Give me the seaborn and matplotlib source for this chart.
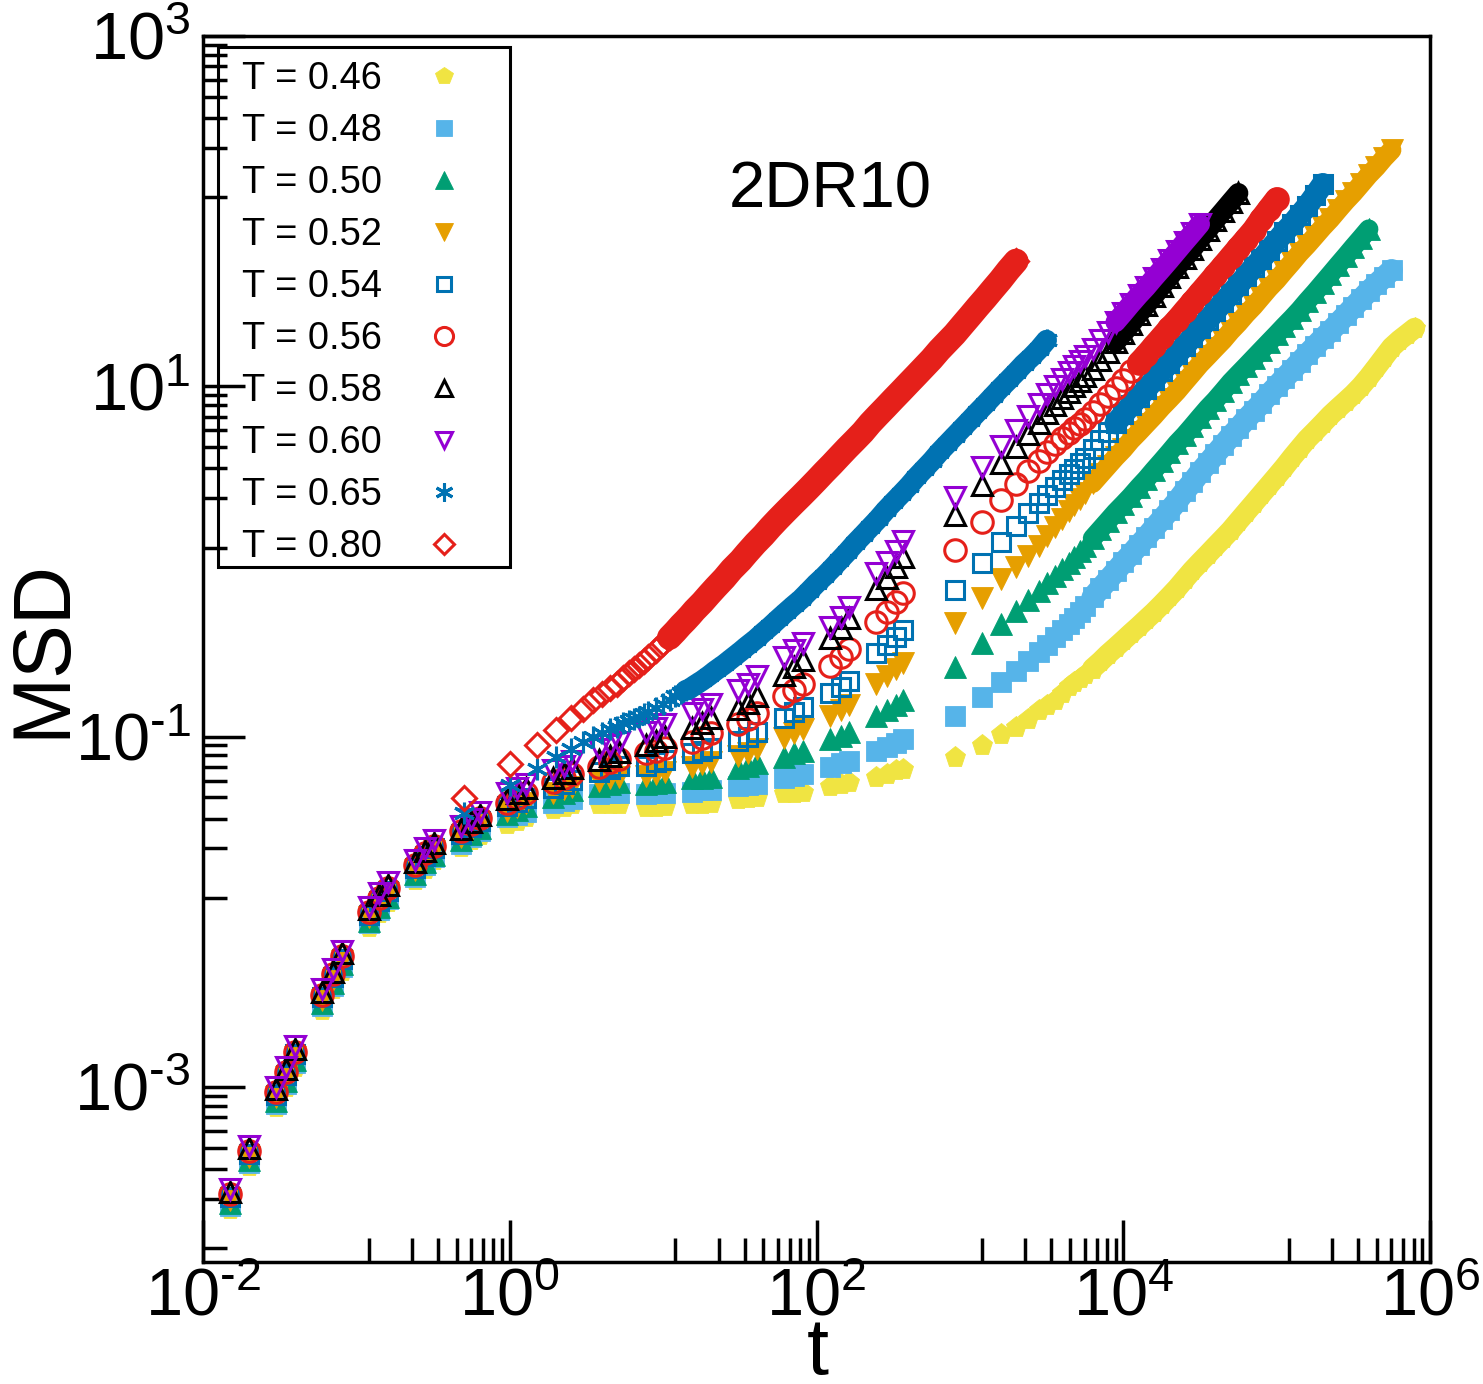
import numpy as np
import matplotlib
matplotlib.use("Agg")
import matplotlib.pyplot as plt
import matplotlib.ticker as mticker
from matplotlib.patches import Rectangle
import seaborn as sns

# time grids (log-spaced blocks for the short runs, linear/dense for the long runs)
SHORT_T = [0.015, 0.02, 0.03, 0.035, 0.04, 0.06, 0.07, 0.08, 0.12, 0.14, 0.16, 0.24, 0.28, 0.32, 0.48, 0.56, 0.64,
           0.96, 1.12, 1.28, 1.92, 2.24, 2.56, 3.84, 4.48, 5.12, 7.68, 8.96, 10.24, 15.36, 17.92, 20.48,
           30.72, 35.84, 40.96, 61.44, 71.68, 81.92, 122.88, 143.36, 163.84, 245.76, 286.72, 327.68, 368.64]
LONG_T = [800, 1200, 1600, 2000, 2400, 2800, 3200, 3600, 4000, 4400, 4800, 5200, 5600, 6300, 7100, 7900, 8900,
          10000, 11200, 12600, 14100, 15800, 17800, 20000, 22400, 25100, 28200, 31600, 35500, 39800, 44700,
          50100, 56200, 63100, 70800, 79400, 89100, 100000, 112000, 126000, 141000, 158000, 178000, 200000,
          224000, 251000, 282000, 316000, 355000, 398000, 447000, 501000, 562000, 631000, 708000, 794000]
DENSE_T = [0.5, 1.0, 1.5, 2.0, 2.5, 3.0, 3.5, 4.0, 4.5, 5.0, 5.5, 6.0, 6.5, 7.0, 7.5, 8.0, 9.0, 10, 11, 12, 13,
           14, 15, 16, 18, 20, 22, 25, 28, 32, 35, 40, 45, 50, 56, 63, 71, 79, 89, 100, 112, 126, 141, 158, 178,
           200, 224, 251, 282, 316, 355, 398, 447, 501, 562, 631, 708, 794, 891, 1000, 1120, 1260, 1410, 1580,
           1780, 2000, 2240, 2510, 2820, 3160]

# MSD values
msd_046_short = [2.0e-4, 3.53e-4, 7.7e-4, 1.0e-3, 1.3e-3, 2.76e-3, 3.6e-3, 4.6e-3, 8.2e-3, 9.8e-3, 1.13e-2,
                 1.52e-2, 1.76e-2, 1.96e-2, 2.35e-2, 2.55e-2, 2.75e-2,
                 0.0317, 0.0331, 0.0345, 0.0386, 0.0398, 0.0410, 0.0410, 0.0414, 0.0414, 0.0398, 0.0398, 0.0402,
                 0.0414, 0.0414, 0.0419, 0.0442, 0.0448, 0.0454, 0.0473, 0.0479, 0.0485, 0.0525, 0.0537, 0.0553,
                 0.0591, 0.0615, 0.0640, 0.0656]
msd_046_long = [0.0759, 0.0889, 0.1027, 0.1140, 0.1267, 0.1408, 0.1523, 0.1625, 0.1761, 0.1931, 0.2035, 0.2145,
                0.2261, 0.2445, 0.2683, 0.2941, 0.3225, 0.3537, 0.3878, 0.4252, 0.4663, 0.5113, 0.5678, 0.6310,
                0.7013, 0.7891, 0.8883, 0.9869, 1.096, 1.218, 1.353, 1.503, 1.693, 1.907, 2.145, 2.414, 2.717,
                3.060, 3.445, 3.928, 4.423, 4.980, 5.532, 6.145, 6.826, 7.488, 8.209, 9.00, 10.0, 11.26, 12.84,
                14.65, 16.71, 18.32, 19.82, 21.45]

msd_048_short = [2.08e-4, 3.68e-4, 8.0e-4, 1.04e-3, 1.36e-3, 2.88e-3, 3.76e-3, 4.8e-3, 8.6e-3, 1.02e-2, 1.18e-2,
                 1.58e-2, 1.84e-2, 2.04e-2, 2.45e-2, 2.67e-2, 2.88e-2,
                 0.0345, 0.0358, 0.0373, 0.0419, 0.0431, 0.0442, 0.0467, 0.0473, 0.0479, 0.0467, 0.0473, 0.0479,
                 0.0485, 0.0492, 0.0498, 0.0525, 0.0532, 0.0537, 0.0583, 0.0599, 0.0615, 0.0674, 0.0702, 0.0728,
                 0.0831, 0.0877, 0.0924, 0.0963]
msd_048_long = [0.1318, 0.1671, 0.2035, 0.2352, 0.2683, 0.3020, 0.3346, 0.3678, 0.4033, 0.4362, 0.4722, 0.5113,
                0.5532, 0.6226, 0.7010, 0.7787, 0.8767, 0.9869, 1.096, 1.234, 1.371, 1.544, 1.738, 1.956, 2.202,
                2.512, 2.828, 3.226, 3.631, 4.088, 4.601, 5.180, 5.754, 6.478, 7.197, 7.996, 9.00, 10.0, 11.11,
                12.34, 13.71, 15.23, 16.93, 18.81, 20.62, 22.91, 25.45, 28.28, 31.42, 34.9, 38.28, 41.97, 46.03]

msd_050_short = [2.17e-4, 3.83e-4, 8.3e-4, 1.08e-3, 1.42e-3, 3.0e-3, 3.92e-3, 5.0e-3, 8.9e-3, 1.07e-2, 1.22e-2,
                 1.65e-2, 1.92e-2, 2.12e-2, 2.55e-2, 2.78e-2, 3.0e-2,
                 0.0362, 0.0382, 0.0403, 0.0454, 0.0473, 0.0492, 0.0525, 0.0537, 0.0553, 0.0537, 0.0546, 0.0553,
                 0.0576, 0.0583, 0.0591, 0.0665, 0.0683, 0.0702, 0.0769, 0.0800, 0.0831, 0.0963, 0.1013, 0.1068,
                 0.1318, 0.1408, 0.1504, 0.1607]
msd_050_long = [0.2484, 0.3398, 0.4362, 0.5180, 0.5985, 0.6739, 0.7486, 0.8209, 0.9000, 0.9740, 1.054, 1.141,
                1.218, 1.353, 1.523, 1.693, 1.907, 2.118, 2.352, 2.647, 2.943, 3.311, 3.728, 4.197, 4.725, 5.248,
                5.908, 6.651, 7.488, 8.318, 9.363, 10.54, 11.71, 13.0, 14.45, 16.05, 17.83, 19.8, 22.0, 24.45,
                27.2, 30.6, 34.4, 38.8, 43.6, 49.1, 55.3, 62.3, 70.1, 78.9]

msd_052_short = [2.25e-4, 3.99e-4, 8.7e-4, 1.13e-3, 1.47e-3, 3.12e-3, 4.07e-3, 5.2e-3, 9.3e-3, 1.11e-2, 1.27e-2,
                 1.72e-2, 1.99e-2, 2.21e-2, 2.66e-2, 2.9e-2, 3.15e-2,
                 0.0377, 0.0398, 0.0419, 0.0479, 0.0500, 0.0518, 0.0560, 0.0576, 0.0591, 0.0599, 0.0615, 0.0631,
                 0.0674, 0.0694, 0.0711, 0.0779, 0.0810, 0.0844, 0.0987, 0.1041, 0.1097, 0.1318, 0.1408, 0.1504,
                 0.2008, 0.2202, 0.2415, 0.2617]
msd_052_long = [0.4420, 0.6146, 0.7890, 0.9241, 1.068, 1.218, 1.389, 1.564, 1.738, 1.931, 2.089, 2.262, 2.447,
                2.791, 3.142, 3.491, 3.928, 4.365, 4.914, 5.459, 6.066, 6.739, 7.586, 8.427, 9.363, 10.54, 11.87,
                13.36, 14.84, 16.49, 18.32, 20.62, 22.91, 25.79, 28.65, 32.26, 36.31, 40.33, 45.4, 51.1, 57.5,
                63.9, 72.0, 81.0, 90.0, 101.3, 114.0, 126.7, 142.7, 160.6, 178.4, 200.9, 223.2]

msd_054_short = [2.34e-4, 4.14e-4, 9.0e-4, 1.17e-3, 1.53e-3, 3.24e-3, 4.23e-3, 5.4e-3, 9.6e-3, 1.15e-2, 1.32e-2,
                 1.78e-2, 2.07e-2, 2.3e-2, 2.77e-2, 3.03e-2, 3.29e-2,
                 0.0403, 0.0425, 0.0448, 0.0511, 0.0537, 0.0568, 0.0631, 0.0656, 0.0683, 0.0683, 0.0711, 0.0739,
                 0.0800, 0.0831, 0.0865, 0.0948, 0.1000, 0.1055, 0.1284, 0.1372, 0.1465, 0.1764, 0.1908, 0.2062,
                 0.2982, 0.3310, 0.3677, 0.4032]
msd_054_long = [0.6827, 0.9740, 1.284, 1.585, 1.881, 2.145, 2.383, 2.647, 2.904, 3.143, 3.355, 3.630, 3.878,
                4.365, 4.914, 5.460, 6.145, 6.918, 7.788, 8.652, 9.613, 10.82, 12.18, 13.53, 15.23, 16.93, 19.05,
                21.45, 23.84, 26.83, 30.2, 33.55, 37.77, 42.52, 47.86, 53.18, 59.87, 67.39, 75.86, 84.3, 94.9,
                106.8, 123.4, 142.7]

msd_056_short = [2.43e-4, 4.3e-4, 9.3e-4, 1.21e-3, 1.59e-3, 3.36e-3, 4.39e-3, 5.6e-3, 1.0e-2, 1.19e-2, 1.37e-2,
                 1.85e-2, 2.15e-2, 2.38e-2, 2.88e-2, 3.15e-2, 3.42e-2,
                 0.0419, 0.0448, 0.0479, 0.0553, 0.0583, 0.0615, 0.0674, 0.0711, 0.0749, 0.0800, 0.0831, 0.0865,
                 0.0936, 0.0987, 0.1041, 0.1186, 0.1267, 0.1354, 0.1693, 0.1832, 0.1982, 0.2543, 0.2829, 0.3143,
                 0.4483, 0.5113, 0.5832, 0.6564]
msd_056_long = [1.156, 1.671, 2.232, 2.754, 3.268, 3.728, 4.197, 4.664, 5.045, 5.388, 5.754, 6.066, 6.478, 7.102,
                7.892, 8.767, 9.74, 10.82, 12.18, 13.53, 15.04, 16.93, 19.05, 21.45, 23.84, 26.83, 30.2, 34.0,
                38.28, 43.09, 48.5, 54.6, 61.47, 69.2, 77.9, 90.0, 102.7, 117.1]

msd_058_short = [2.5e-4, 4.45e-4, 9.7e-4, 1.26e-3, 1.64e-3, 3.48e-3, 4.55e-3, 5.8e-3, 1.03e-2, 1.24e-2, 1.42e-2,
                 1.91e-2, 2.22e-2, 2.46e-2, 2.98e-2, 3.26e-2, 3.55e-2,
                 0.0442, 0.0473, 0.0507, 0.0583, 0.0623, 0.0665, 0.0739, 0.0779, 0.0821, 0.0899, 0.0948, 0.1000,
                 0.1125, 0.1202, 0.1284, 0.1445, 0.1564, 0.1693, 0.2232, 0.2484, 0.2752, 0.3629, 0.4140, 0.4722,
                 0.6918, 0.7996, 0.9241, 1.054]
msd_058_long = [1.832, 2.719, 3.630, 4.481, 5.317, 6.145, 7.012, 7.788, 8.539, 9.241, 10.0, 10.68, 11.40, 12.51,
                14.08, 15.64, 17.8, 20.09, 22.61, 25.8, 29.04, 32.68, 37.27, 42.0, 47.86, 53.87, 60.66, 69.2,
                77.9, 88.8, 100.0, 112.6, 126.7]

msd_060_short = [2.6e-4, 4.6e-4, 1.0e-3, 1.3e-3, 1.7e-3, 3.6e-3, 4.7e-3, 6.0e-3, 1.07e-2, 1.28e-2, 1.47e-2,
                 1.98e-2, 2.3e-2, 2.55e-2, 3.1e-2, 3.4e-2, 3.7e-2,
                 0.0473, 0.0507, 0.0537, 0.0640, 0.0683, 0.0728, 0.0844, 0.0889, 0.0936, 0.1055, 0.1112, 0.1172,
                 0.1354, 0.1445, 0.1543, 0.1832, 0.2008, 0.2202, 0.2829, 0.3101, 0.3398, 0.4196, 0.4786, 0.5459,
                 0.854, 0.987, 1.141, 1.301]
msd_060_long = [2.321, 3.445, 4.541, 5.606, 6.739, 7.892, 9.00, 10.0, 10.96, 12.02, 13.0, 13.89, 14.84, 16.27,
                18.32, 20.35, 23.21, 26.13, 29.42, 33.11, 36.79, 41.42, 46.63, 52.48, 59.08, 66.51, 74.86, 84.3]

msd_065 = [0.0368, 0.0532, 0.0656, 0.0769, 0.0854, 0.0936, 0.1000, 0.1054, 0.1097, 0.1140, 0.1187, 0.1234,
           0.1267, 0.1301, 0.1353, 0.1389, 0.1464, 0.1543, 0.1627, 0.1693, 0.1761, 0.1832, 0.1881, 0.1956,
           0.2089, 0.2232, 0.2383, 0.2579, 0.2790, 0.3060, 0.3268, 0.3583, 0.3929, 0.4252, 0.4663, 0.5113,
           0.5606, 0.6065, 0.6739, 0.7486, 0.8209, 0.9120, 1.013, 1.126, 1.267, 1.408, 1.564, 1.738, 1.956,
           2.173, 2.414, 2.683, 3.020, 3.355, 3.728, 4.197, 4.664, 5.180, 5.754, 6.393, 7.102, 7.892, 8.767,
           9.74, 10.82, 12.02, 13.36, 14.65, 16.27, 18.32]
msd_080 = [0.0448, 0.0701, 0.0900, 0.1096, 0.1284, 0.1445, 0.1606, 0.1738, 0.1881, 0.2008, 0.2145, 0.2291,
           0.2415, 0.2545, 0.2683, 0.2828, 0.3100, 0.3398, 0.3678, 0.3981, 0.4308, 0.4602, 0.4914, 0.5248,
           0.5832, 0.6479, 0.7103, 0.7997, 0.9000, 1.013, 1.111, 1.267, 1.408, 1.564, 1.738, 1.931, 2.145,
           2.352, 2.613, 2.904, 3.226, 3.584, 3.981, 4.423, 4.914, 5.460, 6.145, 6.828, 7.586, 8.428, 9.363,
           10.40, 11.56, 12.84, 14.27, 16.06, 17.84, 19.8, 22.32, 25.12, 28.28, 31.84, 35.84, 40.3, 46.03, 51.8]

labels = ["T = 0.46", "T = 0.48", "T = 0.50", "T = 0.52", "T = 0.54",
          "T = 0.56", "T = 0.58", "T = 0.60", "T = 0.65", "T = 0.80"]
colors = ["#F0E442", "#56B4E9", "#009E73", "#E69F00", "#0072B2",
          "#E5201A", "#000000", "#9400D3", "#0072B2", "#E5201A"]
markers = ["p", "s", "^", "v", "s", "o", "^", "v", (6, 2, 0), "D"]
filled = [True, True, True, True, False, False, False, False, False, False]
sizes = [15.5, 14, 15.5, 15.5, 12.5, 15.5, 14.5, 14.5, 15.5, 12]
# where the densely sampled points merge into a solid band, and how wide that band is
band_start = [6000, 6000, 6000, 6000, 8000, 12000, 8000, 8000, 14, 11]
band_width = [15, 16, 14, 14, 16, 17, 14.5, 14.5, 15, 18]

t_data = [SHORT_T + LONG_T[:len(msd_046_long)], SHORT_T + LONG_T[:len(msd_048_long)],
          SHORT_T + LONG_T[:len(msd_050_long)], SHORT_T + LONG_T[:len(msd_052_long)],
          SHORT_T + LONG_T[:len(msd_054_long)], SHORT_T + LONG_T[:len(msd_056_long)],
          SHORT_T + LONG_T[:len(msd_058_long)], SHORT_T + LONG_T[:len(msd_060_long)],
          DENSE_T[:len(msd_065)], DENSE_T[:len(msd_080)]]
msd_data = [msd_046_short + msd_046_long, msd_048_short + msd_048_long,
            msd_050_short + msd_050_long, msd_052_short + msd_052_long,
            msd_054_short + msd_054_long, msd_056_short + msd_056_long,
            msd_058_short + msd_058_long, msd_060_short + msd_060_long,
            msd_065, msd_080]

sns.set_theme(style="ticks")
plt.rcParams["font.family"] = ["Liberation Sans", "DejaVu Sans"]
plt.rcParams["mathtext.fontset"] = "custom"
plt.rcParams["mathtext.rm"] = "Liberation Sans"
plt.rcParams["mathtext.it"] = "Liberation Sans:italic"
plt.rcParams["mathtext.bf"] = "Liberation Sans:bold"
plt.rcParams["text.color"] = "black"
plt.rcParams["axes.labelcolor"] = "black"

fig = plt.figure(figsize=(14.83, 13.84), dpi=100)
ax = fig.add_axes([0.1369, 0.0882, 0.8274, 0.8858])
ax.set_xscale("log")
ax.set_yscale("log")

for i in range(len(labels)):
    t, m, col = t_data[i], msd_data[i], colors[i]
    t_band = [tv for tv in t if tv >= band_start[i]]
    m_band = [mv for tv, mv in zip(t, m) if tv >= band_start[i]]
    sns.lineplot(x=t_band, y=m_band, ax=ax, estimator=None, sort=False, color=col,
                 linewidth=band_width[i], solid_capstyle="round", solid_joinstyle="round", legend=False)
    sns.lineplot(x=t, y=m, ax=ax, label=labels[i], estimator=None, sort=False,
                 linestyle="", marker=markers[i], markersize=sizes[i], color=col,
                 markerfacecolor=col if filled[i] else "none", markeredgecolor=col,
                 markeredgewidth=0.6 if filled[i] else 2.2)

ax.set_xlim(1e-2, 1e6)
ax.set_ylim(1e-4, 1e3)

# xmgrace-like ticks: majors every two decades, minors linearly spaced in between
ax.xaxis.set_major_locator(mticker.FixedLocator([1e-2, 1e0, 1e2, 1e4, 1e6]))
xminor = [10.0 ** a + k * (10.0 ** (a + 2) - 10.0 ** a) / 9 for a in (-2, 0, 2, 4) for k in range(1, 9)]
ax.xaxis.set_minor_locator(mticker.FixedLocator(xminor))
ax.yaxis.set_major_locator(mticker.FixedLocator([1e-3, 1e-1, 1e1, 1e3]))
yminor = [10.0 ** a + k * (10.0 ** (a + 2) - 10.0 ** a) / 9 for a in (-5, -3, -1, 1) for k in range(1, 9)]
yminor = [v for v in yminor if 1e-4 <= v <= 1e3]
ax.yaxis.set_minor_locator(mticker.FixedLocator(yminor))


def pow_label(v, pos):
    e = int(round(np.log10(v)))
    if e < 0:
        return r"$\mathregular{10^{\text{-}%d}}$" % abs(e)
    return r"$\mathregular{10^{%d}}$" % e


fmt = mticker.FuncFormatter(pow_label)
ax.xaxis.set_major_formatter(fmt)
ax.yaxis.set_major_formatter(fmt)
ax.xaxis.set_minor_formatter(mticker.NullFormatter())
ax.yaxis.set_minor_formatter(mticker.NullFormatter())

ax.tick_params(which="both", direction="in", top=False, right=False, bottom=True, left=True,
               width=2.5, colors="black", labelsize=48)
ax.tick_params(which="major", length=30)
ax.tick_params(which="minor", length=17)
ax.tick_params(axis="y", which="major", pad=9)
ax.tick_params(axis="x", which="major", pad=4)

for sp in ax.spines.values():
    sp.set_linewidth(2.5)
    sp.set_color("black")

ax.set_xlabel("t", fontsize=57)
ax.set_ylabel("MSD", fontsize=58)
ax.xaxis.set_label_coords(0.501, -0.044)
ax.yaxis.set_label_coords(-0.0995, 0.5)

ax.text(0.511, 0.874, "2DR10", transform=ax.transAxes, fontsize=47, ha="center", va="center", color="black")

# legend entries without their own frame; the box is drawn separately so ticks stay visible
leg = ax.legend(loc="upper left", bbox_to_anchor=(0.0315, 0.9792), borderaxespad=0, borderpad=0,
                markerfirst=False, frameon=False, fontsize=27.4, handlelength=1.6, handletextpad=0.84,
                labelspacing=0.42, numpoints=1, markerscale=0.84)
for txt in leg.get_texts():
    txt.set_color("black")
ax.add_patch(Rectangle((0.01222, 0.5669), 0.2380, 0.4241, transform=ax.transAxes, fill=False,
                       edgecolor="black", linewidth=2.2, zorder=6, clip_on=False))

fig.savefig("out.png", dpi=100)
